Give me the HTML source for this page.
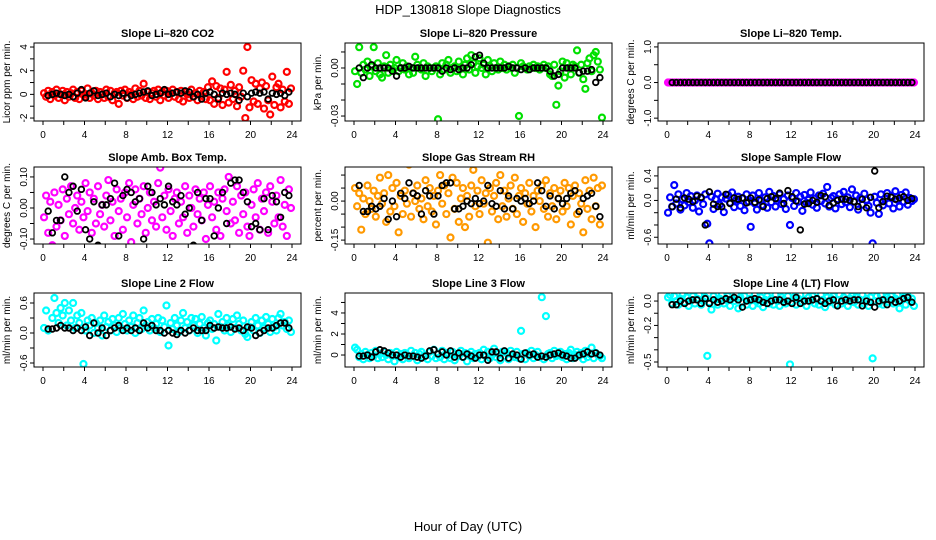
<!DOCTYPE html>
<html><head><meta charset="utf-8"><style>
html,body{margin:0;padding:0;background:#fff}
svg{display:block;font-family:"Liberation Sans",Arial,sans-serif}
</style></head><body>
<svg id="chart" width="936" height="540" viewBox="0 0 936 540">
<text x="468" y="14" text-anchor="middle" font-size="13">HDP_130818  Slope Diagnostics</text>
<text x="468" y="531" text-anchor="middle" font-size="13">Hour of Day (UTC)</text>
</svg>
<script>
// ---- data (per panel: colored series, black series) ----
const co2Color=[0.1,-0.2,0.3,-0.4,0.2,-0.1,0.4,-0.3,0.0,0.3,-0.5,0.2,-0.2,0.1,0.4,-0.3,0.2,-0.4,0.3,0.0,
-0.2,0.5,-0.3,0.1,-0.1,0.3,-0.4,0.2,0.0,-0.3,0.4,-0.2,0.3,-0.5,0.1,0.2,-0.8,0.3,-0.1,0.4,
-0.3,0.2,0.0,-0.4,0.5,-0.2,0.3,-0.1,0.9,-0.3,0.2,-0.4,0.1,0.3,-0.2,0.4,-0.5,0.2,-0.1,0.3,
-0.3,0.1,0.4,-0.2,0.2,-0.4,0.3,-0.6,0.2,0.0,-0.3,0.4,-0.2,0.1,-0.5,0.3,-0.1,0.2,-0.4,0.6,
-0.5,1.1,-0.8,0.7,-0.3,0.5,-0.9,0.4,1.9,-0.7,0.8,-0.4,0.3,-1.0,0.6,-0.2,2.0,-2.0,4.0,-1.1,
1.2,-0.6,0.9,-0.8,0.5,1.0,-1.2,0.7,-0.5,-1.7,1.5,-0.9,0.6,0.9,-1.1,0.4,-0.6,1.9,-0.8,0.5];
const co2Black=[-0.1,0.0,0.1,0.0,-0.1,0.0,-0.2,0.1,0.4,-0.3,0.1,0.3,-0.1,0.0,0.1,-0.2,0.0,-0.1,0.1,-0.3,
-0.1,0.0,0.1,0.2,0.3,-0.1,0.0,0.1,0.4,0.0,0.1,0.2,0.1,0.3,0.2,-0.2,0.0,-0.4,0.1,0.2,
0.0,-0.4,0.1,0.0,0.1,0.0,-0.5,0.1,-0.2,0.1,0.2,0.1,0.2,-0.4,0.1,0.0,0.1,-0.1,0.2];
const presColor=[-0.002,-0.010,0.013,-0.003,0.002,-0.001,0.004,-0.005,0.001,0.013,-0.002,0.003,-0.004,-0.006,0.001,0.008,-0.003,0.002,-0.001,0.0,
0.005,-0.002,0.0,0.003,-0.001,0.001,-0.004,0.0,-0.003,0.007,0.002,0.0,-0.001,0.003,-0.005,0.001,0.0,-0.002,0.0,0.001,
-0.032,-0.004,0.003,-0.001,0.002,0.005,-0.003,0.0,0.001,-0.002,0.004,0.0,-0.004,0.002,0.006,-0.001,0.008,0.003,-0.003,0.001,
0.006,0.0,0.002,-0.004,0.005,0.001,-0.002,0.003,0.0,-0.001,0.004,0.0,0.002,-0.001,0.001,0.0,0.002,-0.003,0.0,-0.030,
0.003,0.001,0.0,-0.001,0.001,0.0,0.002,0.0,0.001,-0.001,0.0,0.002,0.0,0.001,-0.004,-0.005,0.002,-0.023,-0.011,-0.002,
0.004,-0.006,0.003,0.0,-0.004,0.002,0.001,0.011,-0.003,0.002,-0.007,-0.013,0.003,0.006,-0.002,0.008,0.010,0.004,-0.001,-0.031];
const presBlack=[0.0,-0.006,0.0,0.002,0.0,0.0,0.0,0.0,-0.002,-0.005,0.0,0.0,0.001,0.0,0.0,0.0,0.0,0.0,0.0,0.0,
-0.002,0.0,-0.001,0.0,-0.001,0.0,0.0,0.002,0.007,0.008,0.003,0.0,0.0,0.0,0.0,0.0,0.001,0.0,0.0,-0.001,
0.0,-0.001,0.0,0.0,0.0,0.0,-0.002,-0.005,-0.004,0.0,0.0,0.0,0.0,-0.003,-0.002,-0.002,-0.001,-0.009,-0.006];
const tempColor=[0,0,0,0,0,0,0,0,0,0,0,0,0,0,0,0,0,0,0,0,0,0,0,0,0,0,0,0,0,0,0,0,0,0,0,0,0,0,0,0,
0,0,0,0,0,0,0,0,0,0,0,0,0,0,0,0,0,0,0,0,0,0,0,0,0,0,0,0,0,0,0,0,0,0,0,0,0,0,0,0,
0,0,0,0,0,0,0,0,0,0,0,0,0,0,0,0,0,0,0,0,0,0,0,0,0,0,0,0,0,0,0,0,0,0,0,0,0,0,0,0];
const tempBlack=[0,0,0,0,0,0,0,0,0,0,0,0,0,0,0,0,0,0,0,0,0,0,0,0,0,0,0,0,0,0,
0,0,0,0,0,0,0,0,0,0,0,0,0,0,0,0,0,0,0,0,0,0,0,0,0,0,0,0,0];
const ambColor=[-0.03,0.04,-0.08,0.02,-0.12,0.05,-0.06,0.01,-0.04,0.06,-0.09,0.03,-0.02,0.07,-0.05,0.00,0.04,-0.07,0.02,-0.03,
0.08,-0.01,0.05,-0.08,0.03,-0.05,0.07,-0.02,0.01,-0.06,0.04,0.09,-0.04,0.02,-0.09,0.06,-0.01,0.03,-0.07,0.05,
-0.03,0.08,-0.11,0.01,0.06,-0.05,0.03,-0.02,0.07,-0.08,0.00,0.05,-0.04,0.02,-0.06,0.08,0.13,-0.03,0.04,-0.07,
0.06,-0.01,-0.09,0.03,0.05,-0.05,0.02,-0.03,0.07,-0.08,0.04,0.00,-0.06,0.06,-0.02,0.03,-0.04,0.05,-0.10,0.01,
0.07,-0.03,0.02,-0.07,0.05,-0.09,0.03,0.06,-0.01,0.10,-0.05,0.02,-0.04,0.07,-0.08,0.04,-0.02,0.05,-0.06,-0.09,
0.01,0.06,-0.03,0.08,-0.07,0.03,-0.01,0.05,-0.08,0.07,0.02,-0.05,0.04,-0.03,0.09,-0.06,0.01,-0.09,0.06,0.00];
const ambBlack=[-0.01,-0.08,-0.04,-0.04,0.10,0.05,0.07,-0.01,0.06,-0.07,-0.10,0.02,-0.12,0.01,0.01,0.03,0.08,-0.09,0.04,0.06,
0.05,0.02,0.03,-0.10,0.07,0.05,0.01,0.03,0.01,0.07,0.02,0.01,0.04,-0.02,0.00,-0.12,0.05,-0.04,0.03,0.03,
-0.09,0.00,0.05,-0.05,0.08,0.09,0.09,0.05,0.02,-0.06,-0.05,-0.07,0.03,-0.07,0.04,0.02,-0.03,0.05,0.04];
const rhColor=[0.05,-0.02,0.03,-0.11,0.01,-0.05,0.06,0.00,-0.03,0.04,-0.06,0.02,0.09,-0.01,0.03,-0.08,0.10,-0.04,0.05,-0.02,
0.07,-0.12,0.02,-0.05,0.04,-0.01,0.14,-0.06,0.03,0.00,0.06,-0.03,0.01,-0.07,0.08,-0.02,0.05,-0.04,0.02,-0.09,
0.04,0.10,-0.01,0.06,-0.05,0.03,-0.14,0.09,-0.03,0.07,-0.08,0.01,0.05,-0.10,0.02,-0.06,0.06,0.12,-0.02,0.04,
-0.05,0.08,-0.01,0.03,-0.16,0.05,-0.04,0.02,0.07,-0.07,0.10,-0.02,0.04,-0.06,0.01,0.06,-0.03,0.09,-0.05,0.02,
0.05,-0.08,0.03,-0.01,0.07,-0.04,0.02,-0.10,0.04,0.00,0.06,-0.03,0.08,-0.06,0.03,-0.02,0.05,-0.07,0.01,0.04,
-0.04,0.07,-0.02,0.05,-0.09,0.02,0.06,-0.05,0.03,-0.01,-0.12,0.08,-0.03,0.04,-0.07,0.09,-0.02,0.05,-0.09,0.06];
const rhBlack=[0.06,-0.04,-0.04,-0.02,-0.03,-0.02,0.01,-0.07,0.00,-0.06,0.03,0.01,0.07,0.03,0.02,-0.05,0.04,0.02,-0.05,0.02,
0.06,0.07,0.07,-0.03,-0.03,-0.02,0.00,-0.01,0.01,-0.01,0.00,0.06,-0.01,-0.02,0.04,-0.03,0.02,-0.03,0.01,0.00,
0.01,-0.01,0.00,0.07,0.04,-0.02,0.02,-0.03,0.01,-0.01,0.01,0.03,0.04,-0.04,0.01,0.02,0.03,-0.02,-0.06];
const sampColor=[-0.20,0.05,-0.10,0.25,-0.05,0.10,-0.15,0.02,-0.08,0.12,-0.03,0.07,-0.12,0.00,0.08,-0.18,0.04,-0.06,0.10,-0.38,
-0.70,0.06,-0.14,0.02,0.11,-0.07,0.05,-0.19,0.03,0.09,-0.04,0.13,-0.11,0.01,0.06,-0.09,0.04,-0.16,0.10,-0.02,
-0.43,0.08,-0.05,-0.15,0.12,0.00,-0.08,0.05,-0.12,0.14,-0.03,0.07,-0.10,0.03,0.10,-0.06,0.02,-0.14,0.08,-0.40,
0.04,-0.09,0.12,-0.02,0.06,-0.17,0.09,-0.04,0.01,0.13,-0.07,0.03,-0.12,0.08,-0.01,0.11,-0.05,0.22,-0.10,0.04,
0.07,-0.13,0.02,0.10,-0.06,0.14,-0.03,0.05,-0.11,0.18,-0.02,0.08,-0.15,0.04,-0.07,0.11,0.01,-0.09,-0.20,-0.70,
0.06,-0.04,-0.22,0.10,-0.08,0.03,0.12,-0.05,0.07,-0.13,0.15,0.01,-0.10,0.09,-0.02,0.13,-0.07,0.04,-0.01,0.02];
const sampBlack=[-0.10,0.02,-0.12,0.04,0.02,-0.02,0.07,0.05,-0.40,0.14,-0.06,-0.10,-0.10,0.10,-0.05,0.04,0.02,0.04,-0.04,0.04,
-0.03,0.01,-0.10,0.03,0.06,0.03,0.12,-0.05,0.16,0.06,-0.01,-0.48,-0.06,-0.05,0.00,-0.03,0.08,0.06,-0.08,-0.04,
0.00,0.02,0.02,0.00,-0.02,-0.10,0.02,-0.12,0.05,0.48,-0.12,-0.02,0.07,0.05,0.02,0.04,0.06,0.00,0.03];
const l2Color=[0.10,0.45,0.05,0.95,0.30,0.70,0.40,0.20,0.50,0.35,0.60,0.15,0.45,0.25,0.60,0.10,0.35,0.20,0.40,-0.62,
0.05,0.25,0.15,0.30,0.00,0.20,0.10,0.25,-0.05,0.35,0.12,0.22,0.05,0.28,0.15,0.02,0.30,0.10,0.38,0.18,
0.05,0.25,0.12,0.35,0.00,0.20,0.30,0.08,0.45,0.15,0.22,0.05,0.28,0.10,0.18,0.30,0.02,0.25,0.12,0.55,
-0.25,0.20,0.08,0.30,0.15,0.02,0.25,0.40,0.10,0.22,0.05,0.30,0.15,0.28,0.00,0.18,0.32,0.10,-0.05,0.20,
0.25,0.08,0.18,-0.15,0.38,0.12,0.22,0.05,0.30,0.15,0.02,0.28,0.10,0.35,0.18,0.05,0.25,-0.02,-0.08,0.12,
0.22,0.05,0.30,0.15,0.00,0.25,0.10,0.32,0.18,0.02,0.28,0.12,0.05,0.30,0.38,0.15,0.22,0.08,0.25,0.02];
const l2Black=[0.08,0.08,0.10,0.15,0.10,0.10,0.05,0.10,0.05,0.12,-0.05,0.20,0.00,0.10,-0.05,0.05,0.10,0.15,0.05,0.10,
0.05,0.10,0.05,0.20,0.10,0.15,0.05,0.05,0.00,0.05,0.00,-0.03,0.05,0.00,0.05,0.10,0.05,0.05,0.05,0.15,
0.10,0.12,0.10,0.10,0.12,0.08,0.10,0.05,0.12,0.10,-0.05,0.00,0.05,0.10,0.10,0.15,0.20,0.20,0.10];
const l3Color=[0.7,0.5,-0.2,0.1,-0.4,0.3,0.0,-0.3,0.2,-0.1,0.4,-0.3,0.1,-0.2,0.3,0.0,-0.4,0.2,-0.1,-0.6,
0.3,-0.2,0.1,-0.4,0.2,0.0,-0.3,0.4,-0.1,0.2,-0.5,0.1,0.3,-0.2,0.0,-0.4,0.3,-0.1,0.5,-0.3,
0.1,-0.2,0.4,-0.4,0.2,0.0,-0.3,0.3,-0.5,0.1,-0.1,0.4,-0.2,0.2,-0.6,0.0,0.3,-0.3,0.1,-0.2,
0.2,-0.4,0.5,-0.1,0.3,-0.3,0.0,0.6,-0.2,0.1,-0.5,0.3,-0.1,0.2,-0.4,0.4,0.0,-0.2,0.3,-0.3,
2.3,0.1,-0.4,0.2,-0.1,0.4,-0.3,0.0,0.3,-0.2,5.5,-0.4,3.7,0.1,0.2,-0.3,0.4,-0.1,0.0,0.3,
-0.2,0.1,-0.4,0.2,0.5,-0.3,0.0,0.3,-0.1,0.2,-0.4,0.4,-0.2,0.1,0.7,-0.3,0.2,0.0,-0.1,-0.3];
const l3Black=[-0.1,-0.1,0.0,-0.2,0.3,0.5,0.4,0.2,0.0,0.0,-0.2,0.0,-0.1,-0.1,-0.2,-0.3,-0.1,0.4,0.5,0.1,
0.3,0.0,0.4,-0.2,0.2,-0.2,0.1,-0.1,-0.3,0.0,0.0,-0.5,0.3,0.3,-0.3,0.4,-0.3,0.1,0.0,-0.4,
0.2,0.0,0.1,-0.2,-0.1,-0.2,0.0,0.1,0.2,0.0,-0.1,-0.3,-0.3,0.0,0.1,0.3,0.1,0.2,0.0];
const l4Color=[0.03,0.05,-0.02,0.04,0.00,-0.03,0.02,0.05,-0.01,0.03,-0.04,0.01,0.04,-0.02,0.02,0.05,-0.03,0.00,0.03,-0.45,
-0.01,-0.07,0.04,0.01,-0.03,0.02,0.05,-0.02,0.01,0.04,-0.04,0.02,0.00,0.05,-0.06,0.03,-0.01,0.04,-0.03,0.01,
0.02,-0.04,0.05,0.00,-0.02,0.03,-0.05,0.01,0.04,-0.02,0.02,-0.03,0.05,0.00,-0.04,0.03,0.01,-0.02,0.04,-0.52,
-0.01,0.03,-0.03,0.02,0.05,-0.01,0.01,-0.04,0.03,0.00,0.04,-0.02,0.02,-0.03,0.05,0.01,-0.05,0.03,-0.01,0.02,
0.04,-0.03,0.01,0.05,-0.02,0.03,0.00,-0.04,0.02,0.04,-0.01,0.03,-0.03,0.01,0.05,-0.02,0.02,-0.04,0.03,-0.47,
0.00,0.04,-0.02,0.05,-0.03,0.01,0.03,-0.01,0.04,-0.02,0.02,0.05,-0.06,0.01,0.03,-0.03,0.04,0.00,0.02,-0.04];
const l4Black=[-0.03,-0.03,0.00,-0.02,0.00,0.01,0.01,-0.02,0.02,-0.02,0.01,-0.01,0.00,0.02,0.01,0.03,0.01,-0.05,0.00,0.01,
0.02,0.01,-0.01,-0.02,0.00,0.01,0.01,-0.01,0.00,-0.02,0.03,-0.02,0.00,0.00,0.01,0.02,0.00,-0.02,0.00,0.01,
-0.04,0.00,0.01,0.00,0.01,0.01,-0.04,0.00,-0.01,-0.05,0.00,0.01,-0.03,0.01,-0.01,0.00,0.02,0.03,-0.01];
const xTicks=[0,2,4,6,8,10,12,14,16,18,20,22,24];
const xTickLabels=["0","","4","","8","","12","","16","","20","","24"];
const panelTitles=["Slope Li\u2013820 CO2","Slope Li\u2013820 Pressure","Slope Li\u2013820 Temp.","Slope Amb. Box Temp.","Slope Gas Stream RH","Slope Sample Flow","Slope Line 2 Flow","Slope Line 3 Flow","Slope Line 4 (LT) Flow"];
const yTitles=["Licor ppm per min.","kPa per min.","degrees C per min.","degrees C per min.","percent per min.","ml/min per min.","ml/min per min.","ml/min per min.","ml/min per min."];
const yLimits=[[-2.25,4.34],[-0.0331,0.0156],[-1.08,1.11],[-0.116,0.132],[-0.165,0.131],[-0.71,0.545],[-0.68,0.8],[-1.14,5.9],[-0.541,0.066]];
const yTicks=[[-2,-1,0,1,2,3,4],[-0.03,-0.02,-0.01,0,0.01],[-1,-0.5,0,0.5,1],[-0.1,-0.05,0,0.05,0.1],[-0.15,-0.1,-0.05,0,0.05,0.1],[-0.6,-0.4,-0.2,0,0.2,0.4],[-0.6,-0.3,0,0.3,0.6],[0,1,2,3,4,5],[-0.5,-0.4,-0.3,-0.2,-0.1,0]];
const yTickLabels=[["-2","","0","","2","","4"],["-0.03","","","0.00",""],["-1.0","","0.0","","1.0"],["-0.10","","0.00","","0.10"],["-0.15","","","0.00","",""],["-0.6","","","0.0","","0.4"],["-0.6","","0.0","","0.6"],["0","","2","","4",""],["-0.5","","","-0.2","","0.0"]];
const colorSeries=[co2Color,presColor,tempColor,ambColor,rhColor,sampColor,l2Color,l3Color,l4Color];
const blackSeries=[co2Black,presBlack,tempBlack,ambBlack,rhBlack,sampBlack,l2Black,l3Black,l4Black];

// ---- layout ----
const colors=["#ff0000","#00e000","#ff00ff","#ff00ff","#ff9900","#0000ff","#00ffff","#00ffff","#00ffff"];
const colX=[[34,301],[345,612],[658,924]];
const rowY=[[43,121],[167,244],[293,367]];
const NS="http://www.w3.org/2000/svg";
const svg=document.getElementById('chart');
function mk(tag,attrs,parent){const e=document.createElementNS(NS,tag);for(const k in attrs)e.setAttribute(k,attrs[k]);(parent||svg).appendChild(e);return e;}

for(let p=0;p<9;p++){
  const [x0,x1]=colX[p%3],[y0,y1]=rowY[Math.floor(p/3)];
  const [lo,hi]=yLimits[p];
  const xs=t=>x0+9+t*(x1-x0-18)/24;
  const ys=v=>y1-(v-lo)/(hi-lo)*(y1-y0);
  const g=mk('g',{});
  
  
  const cp=mk('clipPath',{id:'cp'+p},g);
  mk('rect',{x:x0,y:y0,width:x1-x0,height:y1-y0},cp);
  const tt=mk('text',{x:(x0+x1)/2,y:y0-6,'text-anchor':'middle','font-size':'11','font-weight':'bold'},g);
  tt.textContent=panelTitles[p];
  
  
  const cy=(y0+y1)/2, yt=mk('text',{x:0,y:0,'text-anchor':'middle','font-size':'10',transform:`translate(${x0-24},${cy}) rotate(-90)`},g);
  yt.textContent=yTitles[p];
  
  
  const pts=mk('g',{'clip-path':`url(#cp${p})`,fill:'none'},g);
  
  
  colorSeries[p].forEach((v,i)=>{
    const c=mk('circle',{cx:xs(0.1+0.2*i),cy:ys(v),r:3,stroke:colors[p],'stroke-width':2.2},pts);
    
    
  });
  blackSeries[p].forEach((v,i)=>{
    const c=mk('circle',{cx:xs(0.5+0.4*i),cy:ys(v),r:2.8,stroke:'#000','stroke-width':1.8},pts);
    
    
  });
  const box=mk('rect',{x:x0,y:y0,width:x1-x0,height:y1-y0,fill:'none',stroke:'#000','stroke-width':1},g);
  
  
  xTicks.forEach((t,i)=>{
    mk('line',{x1:xs(t),x2:xs(t),y1:y1,y2:y1+4,stroke:'#000'},g);
    if(xTickLabels[i]){const l=mk('text',{x:xs(t),y:y1+17,'text-anchor':'middle','font-size':'10'},g);l.textContent=xTickLabels[i];
      
      }
  });
  yTicks[p].forEach((v,i)=>{
    const yy=ys(v);
    mk('line',{x1:x0-4,x2:x0,y1:yy,y2:yy,stroke:'#000'},g);
    if(yTickLabels[p][i]){const l=mk('text',{x:0,y:0,'text-anchor':'middle','font-size':'10',transform:`translate(${x0-7},${yy}) rotate(-90)`},g);l.textContent=yTickLabels[p][i];
      
      }
  });
}
</script>
</body></html>
